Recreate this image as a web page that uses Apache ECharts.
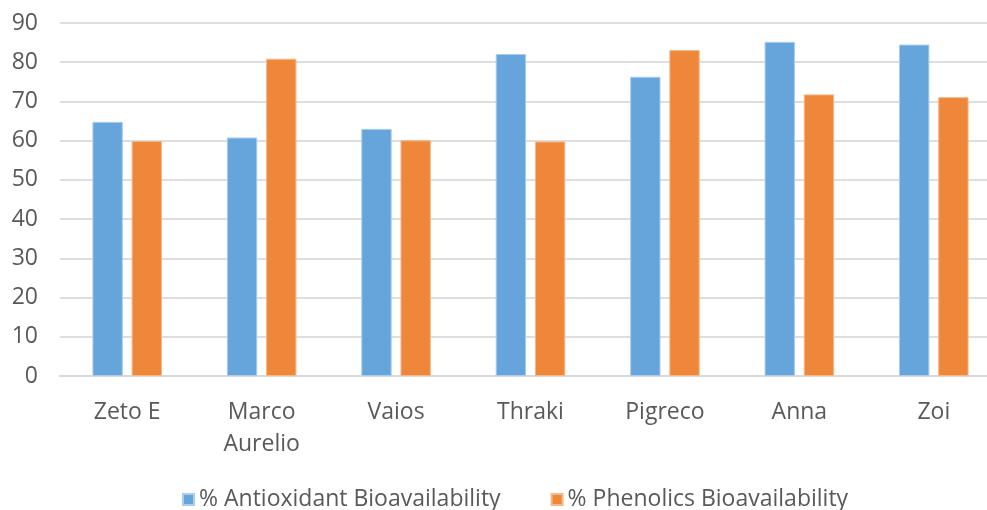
<!DOCTYPE html>
<html>
<head>
<meta charset="utf-8">
<script src="https://cdn.jsdelivr.net/npm/echarts@6/dist/echarts.min.js"></script>
<style>
  html, body { margin: 0; padding: 0; background: #fff; overflow: hidden; }
  #chart { width: 1001px; height: 510px; }
</style>
</head>
<body>
<div id="chart"></div>
<script>
// Olive oil varieties and their bioavailability percentages
const categories = ['Zeto E', 'Marco\nAurelio', 'Vaios', 'Thraki', 'Pigreco', 'Anna', 'Zoi'];
const antioxidant = [64.8, 60.8, 63.0, 82.1, 76.3, 85.2, 84.5];
const phenolics = [59.9, 80.9, 60.1, 59.8, 83.1, 71.8, 71.1];
const seriesNames = ['% Antioxidant Bioavailability', '% Phenolics Bioavailability'];
const yTicks = { min: 0, max: 90, interval: 10 };

const font = '"Open Sans", sans-serif';
const chart = echarts.init(document.getElementById('chart'));
chart.setOption({
  animation: false,
  textStyle: { fontFamily: font },
  grid: { left: 60, top: 23, right: 0, bottom: 134, containLabel: false },
  legend: {
    top: 488,
    left: 182,
    padding: 0,
    itemWidth: 11,
    itemHeight: 11,
    itemGap: 50,
    icon: 'rect',
    textStyle: { fontFamily: font, fontSize: 23, color: '#595959' },
    data: seriesNames
  },
  xAxis: {
    type: 'category',
    data: categories,
    axisLine: { lineStyle: { color: '#d9d9d9', width: 2 } },
    axisTick: { show: false },
    axisLabel: { fontFamily: font, fontSize: 23, color: '#595959', margin: 20, lineHeight: 32 }
  },
  yAxis: {
    type: 'value',
    min: yTicks.min,
    max: yTicks.max,
    interval: yTicks.interval,
    axisLine: { show: false },
    axisTick: { show: false },
    axisLabel: { fontFamily: font, fontSize: 23, color: '#595959', margin: 22 },
    splitLine: { lineStyle: { color: '#dedede', width: 2 } }
  },
  series: [
    {
      name: seriesNames[0],
      type: 'bar',
      data: antioxidant,
      barWidth: '22.6%',
      barGap: '29%',
      itemStyle: { color: '#65a5db', borderColor: '#a9cdec', borderWidth: 1 }
    },
    {
      name: seriesNames[1],
      type: 'bar',
      data: phenolics,
      barWidth: '22.6%',
      itemStyle: { color: '#ef873a', borderColor: '#f6b888', borderWidth: 1 }
    }
  ]
});
</script>
</body>
</html>
